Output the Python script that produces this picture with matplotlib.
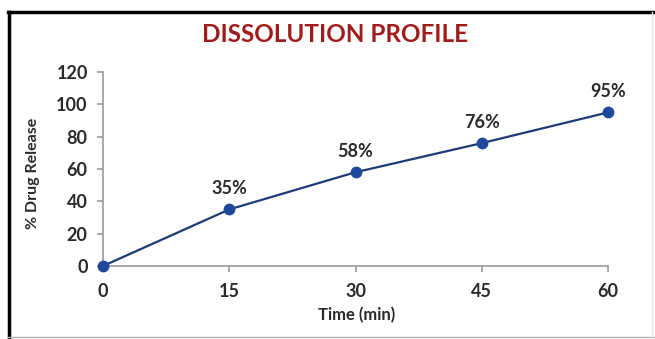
import matplotlib.pyplot as plt
from matplotlib.lines import Line2D

time_min = [0, 15, 30, 45, 60]
release = [0, 35, 58, 76, 95]
labels = ["", "35%", "58%", "76%", "95%"]
yticks = [0, 20, 40, 60, 80, 100, 120]

plt.rcParams['font.family'] = ['Lato', 'DejaVu Sans']
plt.rcParams['font.weight'] = 'bold'

fig = plt.figure(figsize=(6.55, 3.39), dpi=100)
ax = fig.add_axes([103 / 655, 1 - 266 / 339, 505 / 655, 194 / 339])

ax.plot(time_min, release, color='#1f3a78', lw=1.6, marker='o',
        markersize=7.5, markerfacecolor='#1f4a9c', markeredgecolor='#1f4a9c',
        clip_on=False, zorder=3)

for x, y, s in zip(time_min, release, labels):
    if s:
        ax.annotate(s, (x, y), xytext=(0, 15), textcoords='offset points',
                    ha='center', va='center', fontsize=13, fontweight='bold',
                    color='#2a2a2a')

ax.set_xlim(0, 60)
ax.set_ylim(0, 120)
ax.set_xticks(time_min)
ax.set_yticks(yticks)

for side in ['top', 'right']:
    ax.spines[side].set_visible(False)
for side in ['left', 'bottom']:
    ax.spines[side].set_color('#9a9a9a')
    ax.spines[side].set_linewidth(1.2)

ax.tick_params(axis='both', colors='#9a9a9a', labelcolor='#2a2a2a',
               labelsize=13, length=4, width=1.2)
ax.tick_params(axis='y', pad=7)
ax.tick_params(axis='x', pad=8)
for lab in ax.get_xticklabels() + ax.get_yticklabels():
    lab.set_fontweight('bold')

ax.set_xlabel('Time (min)', fontsize=12, fontweight='bold', color='#2a2a2a')
ax.set_ylabel('% Drug Release', fontsize=11.5, fontweight='bold', color='#2a2a2a')
ax.xaxis.set_label_coords(0.503, -0.252)
ax.xaxis.label.set_va('center')
ax.yaxis.set_label_coords(-0.139, 0.48)
ax.yaxis.label.set_va('center')

fig.text(335 / 655, 1 - 34 / 339, 'DISSOLUTION PROFILE', ha='center', va='center',
         fontsize=17.5, fontweight='bold', color='#a01c1c')

# frame around the chart area
fig.add_artist(Line2D([8 / 655, 1], [1 - 12 / 339] * 2, color='black', lw=2.5,
                      transform=fig.transFigure))
fig.add_artist(Line2D([9 / 655] * 2, [0, 1 - 12 / 339], color='black', lw=2.5,
                      transform=fig.transFigure))
fig.add_artist(Line2D([8 / 655, 1], [2 / 339] * 2, color='#b0b0b0', lw=1,
                      transform=fig.transFigure))
fig.add_artist(Line2D([652 / 655] * 2, [0, 1 - 12 / 339], color='#e6e6e6', lw=1,
                      transform=fig.transFigure))

fig.savefig('out.png', dpi=100)
